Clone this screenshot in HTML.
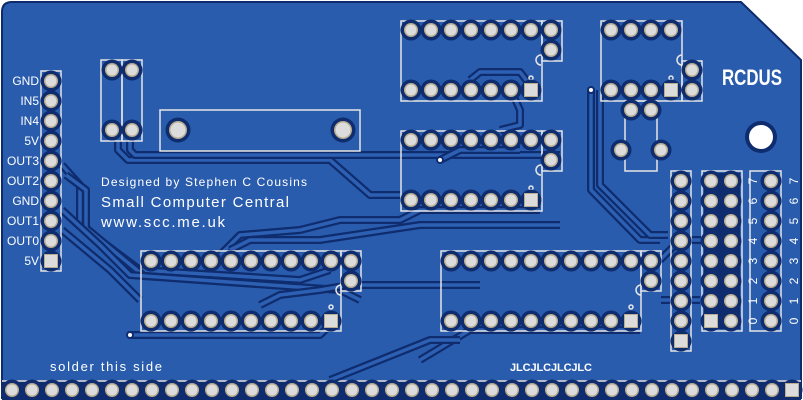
<!DOCTYPE html>
<html><head><meta charset="utf-8"><style>
html,body{margin:0;padding:0;background:#fff;width:803px;height:400px;overflow:hidden}
svg{display:block}
text{font-family:"Liberation Sans",sans-serif;fill:#fff}
</style></head><body>
<svg id="s" width="803" height="400" viewBox="0 0 803 400" xmlns="http://www.w3.org/2000/svg">
<path d="M2,12 Q2,2 12,2 L741,2 L801,60 L801,398 L2,398 Z" fill="#2a5cae" stroke="#0d2a6b" stroke-width="2"/>
<rect x="2" y="380" width="799" height="20" fill="#0e2c6e"/>
<line x1="2" y1="381" x2="801" y2="381" stroke="#e8e8e8" stroke-width="1.5"/>
<g id="tr" fill="none" stroke-linejoin="round"></g>
<g id="silk" fill="none" stroke="#e6e6e6" stroke-width="1.5">
<rect x="41" y="71" width="20" height="200"/>
<rect x="101" y="60" width="21" height="81"/><rect x="122" y="60" width="20" height="81"/>
<rect x="160" y="110" width="200" height="41"/>
<rect x="401" y="21" width="141" height="80"/><rect x="542" y="21" width="20" height="40"/>
<rect x="401" y="131" width="141" height="80"/><rect x="542" y="131" width="20" height="40"/>
<rect x="601" y="21" width="81" height="80"/><rect x="682" y="61" width="20" height="40"/>
<rect x="625" y="101" width="32" height="70"/>
<rect x="141" y="251" width="200" height="80"/><rect x="341" y="251" width="20" height="40"/>
<rect x="441" y="251" width="200" height="80"/><rect x="641" y="251" width="20" height="40"/>
<rect x="671" y="171" width="20" height="180"/>
<rect x="702" y="171" width="40" height="160"/>
<rect x="750" y="171" width="31" height="160"/>
<path d="M541,55 A5,5 0 0 0 541,65"/><path d="M541,165 A5,5 0 0 0 541,175"/>
<path d="M682,55 A5,5 0 0 0 682,65"/><path d="M341,285 A5,5 0 0 0 341,295"/>
<path d="M641,285 A5,5 0 0 0 641,295"/>
<circle cx="531" cy="78" r="2"/><circle cx="671" cy="78" r="2"/><circle cx="531" cy="188" r="2"/>
<circle cx="331" cy="307" r="2"/><circle cx="631" cy="307" r="2"/>
</g>
<circle cx="761" cy="137" r="16" fill="#0e2c6e"/><circle cx="761" cy="137" r="12" fill="#fff"/>
<g id="pads"></g>
<g font-size="12" text-anchor="end">
<text x="39" y="85">GND</text><text x="39" y="105">IN5</text><text x="39" y="125">IN4</text><text x="39" y="145">5V</text>
<text x="39" y="165">OUT3</text><text x="39" y="185">OUT2</text><text x="39" y="205">GND</text><text x="39" y="225">OUT1</text>
<text x="39" y="245">OUT0</text><text x="39" y="265">5V</text>
</g>
<text x="101" y="186" font-size="12" textLength="206">Designed by Stephen C Cousins</text>
<text x="101" y="207" font-size="15" textLength="188">Small Computer Central</text>
<text x="101" y="227" font-size="15" textLength="124">www.scc.me.uk</text>
<text x="50" y="371" font-size="13" textLength="112">solder this side</text>
<text x="510" y="371" font-size="11" font-weight="bold" textLength="82">JLCJLCJLCJLC</text>
<text x="722" y="85" font-size="22" font-weight="bold" textLength="60" lengthAdjust="spacingAndGlyphs">RCDUS</text>
<g id="nums" font-size="12" text-anchor="middle"></g>
</svg>
<script>
var NS="http://www.w3.org/2000/svg";
function el(p,t,a){var e=document.createElementNS(NS,t);for(var k in a)e.setAttribute(k,a[k]);document.getElementById(p).appendChild(e);return e;}
function pad(x,y,sq,r){r=r||8;
 el("pads","circle",{cx:x,cy:y,r:r+2.5,fill:"#0e2c6e"});
 if(sq){el("pads","rect",{x:x-7,y:y-7,width:14,height:14,fill:"#b9ad90"});el("pads","rect",{x:x-6,y:y-6,width:12,height:12,fill:"#dcdcdc"});}
 else{el("pads","circle",{cx:x,cy:y,r:r-1,fill:"#b9ad90"});el("pads","circle",{cx:x,cy:y,r:r-2.5,fill:"#dcdcdc"});}}
function tr(pts){var d="M"+pts.join(" L");
 el("tr","path",{d:d,stroke:"#0e2c6e","stroke-width":8});
 el("tr","path",{d:d,stroke:"#2d60b2","stroke-width":3.5});}
tr(["118,140","118,150","128,160","330,160","370,195","400,195"]);
tr(["130,140","130,150","135,155","560,155"]);
tr(["62,165","80,185","80,225","140,270","300,280","330,270"]);
tr(["66,175","86,190","86,228","144,276","300,286"]);
tr(["62,210","100,245","130,275","340,290","360,300"]);
tr(["62,230","110,270","140,300"]);
tr(["130,335","320,335","330,325"]);
tr(["220,255","240,235","300,230","340,220","400,220","420,210","540,210"]);
tr(["230,250","250,240","320,240","420,225","560,225"]);
tr(["260,305","280,295","320,290","350,285","480,285"]);
tr(["591,90","591,190","640,240","660,240"]);
tr(["600,90","600,185","650,235","668,235"]);
tr(["420,360","470,330","520,330","640,330"]);
tr(["330,380","430,340","460,340"]);
tr(["660,260","680,240","720,240"]);
tr(["661,300","700,300"]);
tr(["440,160","460,150","520,150"]);
tr(["511,90","520,110","520,125","500,130"]);
tr(["470,80","480,72","520,72","530,85"]);
var i;
for(i=0;i<10;i++)pad(51,81+i*20,i==9);
pad(112,70);pad(132,70);pad(112,130);pad(132,130);
pad(178,130,false,10);pad(343,130,false,10);
for(i=0;i<7;i++){pad(411+i*20,30);pad(411+i*20,90,i==6);pad(411+i*20,140);pad(411+i*20,200,i==6);}
pad(551,30);pad(551,50);pad(551,140);pad(551,160);
for(i=0;i<4;i++){pad(611+i*20,30);pad(611+i*20,90,i==3);}
pad(692,70);pad(692,90);pad(631,110);pad(651,110);pad(621,150);pad(661,150);
el("pads","circle",{cx:591,cy:90,r:4,fill:"#0e2c6e"});el("pads","circle",{cx:591,cy:90,r:2,fill:"#fff"});
el("pads","circle",{cx:130,cy:335,r:4,fill:"#0e2c6e"});el("pads","circle",{cx:130,cy:335,r:2,fill:"#fff"});
el("pads","circle",{cx:440,cy:160,r:4,fill:"#0e2c6e"});el("pads","circle",{cx:440,cy:160,r:2,fill:"#fff"});
for(i=0;i<10;i++){pad(151+i*20,261);pad(151+i*20,321,i==9);pad(451+i*20,261);pad(451+i*20,321,i==9);}
pad(351,261);pad(351,281);pad(651,261);pad(651,281);
el("pads","rect",{x:704,y:173,width:36,height:156,fill:"#0e2c6e"});
for(i=0;i<9;i++)pad(681,181+i*20,i==8);
for(i=0;i<8;i++){pad(711,181+i*20,i==7);pad(731,181+i*20);pad(771,181+i*20);
 var n=String(7-i);
 var t=el("nums","text",{x:0,y:0,transform:"translate(757,"+(181+i*20)+") rotate(-90)"});t.textContent=n;
 var t2=el("nums","text",{x:0,y:0,transform:"translate(798,"+(181+i*20)+") rotate(-90)"});t2.textContent=n;}
for(i=0;i<39;i++)pad(12+i*20,390);
pad(792,390,true);
</script>
</body></html>
